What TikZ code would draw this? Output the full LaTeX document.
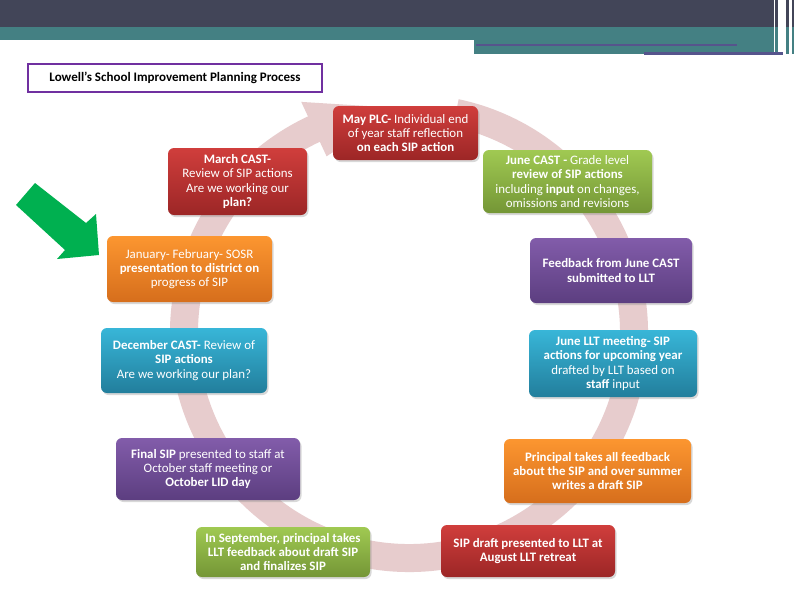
\documentclass[tikz,border=0pt]{standalone}
\usepackage{fontspec}
\setmainfont{Carlito}
\usetikzlibrary{shadows}
\definecolor{darkband}{RGB}{66,69,88}
\definecolor{tealband}{RGB}{68,128,131}
\definecolor{linepurple}{RGB}{86,84,140}
\definecolor{titlepurple}{RGB}{112,48,160}
\definecolor{ringpink}{RGB}{231,204,205}
\definecolor{arrowgreen}{RGB}{0,176,80}
\definecolor{redT}{RGB}{208,62,60}
\definecolor{redB}{RGB}{156,38,38}
\definecolor{greenT}{RGB}{160,201,82}
\definecolor{greenB}{RGB}{116,150,54}
\definecolor{purpleT}{RGB}{130,92,170}
\definecolor{purpleB}{RGB}{92,62,128}
\definecolor{blueT}{RGB}{56,182,216}
\definecolor{blueB}{RGB}{34,126,156}
\definecolor{orangeT}{RGB}{252,150,48}
\definecolor{orangeB}{RGB}{214,110,28}
\begin{document}
\begin{tikzpicture}[x=1pt,y=-1pt,
  sipbox/.style={rounded corners=6pt, text=white, align=center,
    font=\fontsize{12.9}{14.3}\selectfont, inner sep=1pt,
    drop shadow={opacity=0.3, shadow xshift=1.5pt, shadow yshift=-2pt}},
  redbox/.style={sipbox, top color=redT, bottom color=redB},
  greenbox/.style={sipbox, top color=greenT, bottom color=greenB},
  purplebox/.style={sipbox, top color=purpleT, bottom color=purpleB},
  bluebox/.style={sipbox, top color=blueT, bottom color=blueB},
  orangebox/.style={sipbox, top color=orangeT, bottom color=orangeB}]
\useasboundingbox (0,0) rectangle (800,600);
\fill[white] (0,0) rectangle (800,600);
% header bands
\fill[darkband] (0,0) rectangle (778,27);
\fill[tealband] (0,27) rectangle (474,40);
\fill[tealband] (474,27) rectangle (778,54);
\fill[white] (774,0) rectangle (775,54);
\fill[darkband] (786,0) rectangle (789,27);
\fill[tealband] (786,27) rectangle (789,54);
\fill[darkband] (792,0) rectangle (793.5,27);
\fill[tealband] (792,27) rectangle (793.5,54);
\fill[linepurple] (476,43.5) rectangle (737,45.5);
\fill[linepurple] (644,52) rectangle (783,54.5);
% title
\node[draw=titlepurple, line width=2pt, minimum width=294, minimum height=28,
  font=\fontsize{13}{15}\selectfont\bfseries] (title) at (175,77.5)
  {Lowell’s School Improvement Planning Process};
% circular arrow
\fill[ringpink]
  ([shift={(409,333)}]282:239) arc[start angle=282, end angle=605, radius=239]
  -- ([shift={(409,333)}]245:255)
  -- ([shift={(409,333)}]268:225)
  -- ([shift={(409,333)}]245:195)
  -- ([shift={(409,333)}]245:211)
  arc[start angle=605, end angle=282, radius=211] -- cycle;
% green arrow
\fill[arrowgreen] (35,183) -- (86,223) -- (96,214) -- (99,255) -- (57,259)
  -- (65,250) -- (16,205) -- cycle;
% boxes
\node[redbox, minimum width=145, minimum height=54] (may) at (405.5,133)
  {\bfseries May PLC-\mdseries{} Individual end\\ of year staff reflection\\ \bfseries on each SIP action};
\node[greenbox, minimum width=169, minimum height=63] (junecast) at (567.5,181.5)
  {\bfseries June CAST -\mdseries{} Grade level\\ \bfseries review of SIP actions\\ including \textbf{input} on changes,\\ omissions and revisions};
\node[purplebox, minimum width=162, minimum height=65] (feedback) at (611,270.5)
  {\bfseries Feedback from June CAST\\ \bfseries submitted to LLT};
\node[bluebox, minimum width=168, minimum height=67] (junellt) at (613,363.5)
  {\bfseries June LLT meeting- SIP\\ \bfseries actions for upcoming year\\ drafted by LLT based on\\ \textbf{staff} input};
\node[orangebox, minimum width=187, minimum height=64] (principal) at (597.5,471)
  {\bfseries Principal takes all feedback\\ \bfseries about the SIP and over summer\\ \bfseries writes a draft SIP};
\node[redbox, minimum width=174, minimum height=52] (sipdraft) at (528,551)
  {\bfseries SIP draft presented to LLT at\\ \bfseries August LLT retreat};
\node[greenbox, minimum width=174, minimum height=50] (september) at (283,552)
  {\bfseries In September, principal takes\\ \bfseries LLT feedback about draft SIP\\ \bfseries and finalizes SIP};
\node[purplebox, minimum width=184, minimum height=62] (final) at (208,469)
  {\textbf{Final SIP} presented to staff at\\ October staff meeting or\\ \bfseries October LID day};
\node[bluebox, minimum width=166, minimum height=65] (december) at (184,360.5)
  {\textbf{December CAST-} Review of\\ \bfseries SIP actions\\ Are we working our plan?};
\node[orangebox, minimum width=165, minimum height=66] (january) at (189.5,269)
  {January- February- SOSR\\ \bfseries presentation to district on\\ progress of SIP};
\node[redbox, minimum width=139, minimum height=67] (march) at (237.5,181.5)
  {\bfseries March CAST-\\ Review of SIP actions\\ Are we working our\\ \bfseries plan?};
\end{tikzpicture}
\end{document}
